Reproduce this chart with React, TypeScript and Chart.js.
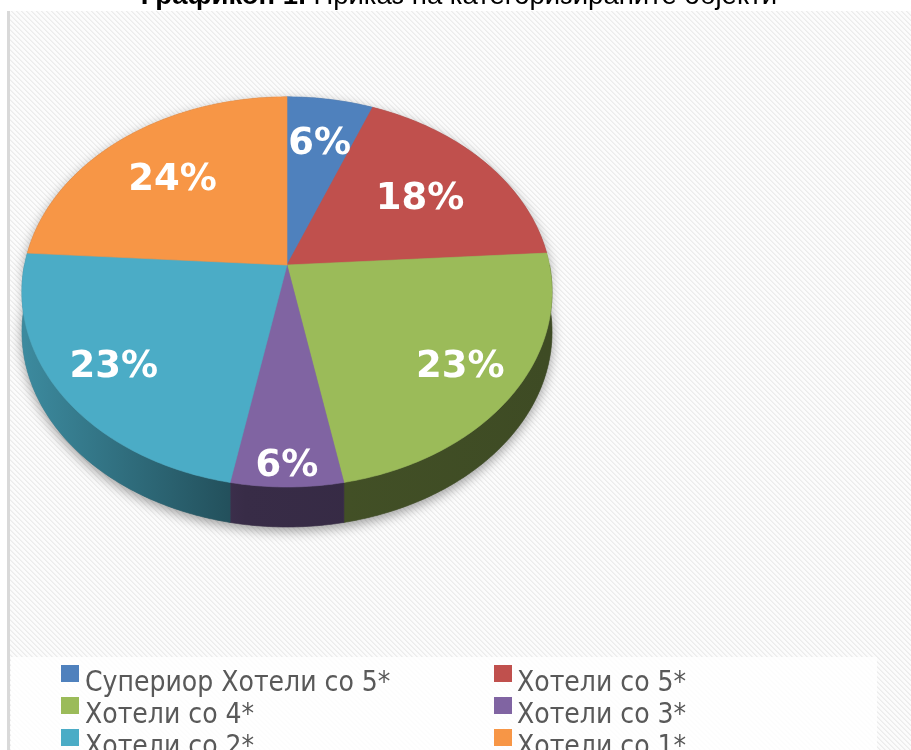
import React, { useEffect, useRef } from "react";
import { Chart, registerables } from "chart.js";

Chart.register(...registerables);

// ---- data ----
const categories = [
  "Супериор Хотели со 5*",
  "Хотели со 5*",
  "Хотели со 4*",
  "Хотели со 3*",
  "Хотели со 2*",
  "Хотели со 1*",
];
const shares = [6, 18, 23, 6, 23, 24];
const colors = ["#4f81bd", "#c0504d", "#9bbb59", "#8064a2", "#4bacc6", "#f79646"];
const titleBold = "Графикон 1.";
const titleRest = " Приказ на категоризираните објекти";

// ---- style ----
const W = 911;
const H = 750;
const TILT = 0.729;
const PERSP = 0.138;
const DEPTH = 40;
const labelRadius = [0.73, 0.66, 0.78, 0.9, 0.78, 0.68];

function shade(hex: string, f: number): string {
  const n = parseInt(hex.slice(1), 16);
  const r = Math.round(((n >> 16) & 255) * f);
  const g = Math.round(((n >> 8) & 255) * f);
  const b = Math.round((n & 255) * f);
  return `rgb(${Math.min(r, 255)},${Math.min(g, 255)},${Math.min(b, 255)})`;
}

function proj(cx: number, cy: number, R: number, rf: number, t: number): [number, number] {
  const s = Math.sin(t);
  const c = Math.cos(t);
  const w = 1 - PERSP * rf * s;
  return [cx + (R * rf * c) / w, cy + (R * TILT * rf * s) / w];
}

const backgroundPlugin = {
  id: "bg",
  beforeDraw(chart: any) {
    const ctx: CanvasRenderingContext2D = chart.ctx;
    ctx.save();
    ctx.fillStyle = "#ffffff";
    ctx.fillRect(0, 0, W, H);
    const tile = document.createElement("canvas");
    tile.width = 5;
    tile.height = 5;
    const tctx = tile.getContext("2d")!;
    const img = tctx.createImageData(5, 5);
    for (let y = 0; y < 5; y++) {
      for (let x = 0; x < 5; x++) {
        const d = (((x - y) % 5) + 5) % 5;
        const v = d === 0 ? 236 : d === 1 ? 242 : 252;
        const k = (y * 5 + x) * 4;
        img.data[k] = v;
        img.data[k + 1] = v;
        img.data[k + 2] = v;
        img.data[k + 3] = 255;
      }
    }
    tctx.putImageData(img, 0, 0);
    const pat = ctx.createPattern(tile, "repeat")!;
    ctx.fillStyle = pat;
    ctx.fillRect(10, 11, W - 10, H - 11);
    ctx.fillStyle = "#d9d9d9";
    ctx.fillRect(7, 11, 3, H - 11);
    // legend box
    ctx.fillStyle = "rgba(255,255,255,0.82)";
    ctx.fillRect(11, 657, 866, H - 657);
    // title
    ctx.fillStyle = "#000000";
    ctx.textBaseline = "alphabetic";
    ctx.textAlign = "left";
    const fb = 'bold 27.5px "Liberation Sans", Arial, sans-serif';
    const fr = '27.5px "Liberation Sans", Arial, sans-serif';
    ctx.font = fb;
    const wb = ctx.measureText(titleBold).width;
    ctx.font = fr;
    const wr = ctx.measureText(titleRest).width;
    const x0 = 459 - (wb + wr) / 2;
    ctx.font = fb;
    ctx.fillText(titleBold, x0, 4);
    ctx.font = fr;
    ctx.fillText(titleRest, x0 + wb, 4);
    ctx.restore();
  },
};

const pie3dPlugin = {
  id: "pie3d",
  beforeDatasetsDraw(chart: any) {
    const ctx: CanvasRenderingContext2D = chart.ctx;
    const meta = chart.getDatasetMeta(0);
    const arcs = meta.data as any[];
    if (!arcs.length) return false;
    const cx = arcs[0].x;
    const cy = arcs[0].y;
    const R = arcs[0].outerRadius;
    const N = 240;

    // silhouette with shadow
    ctx.save();
    ctx.beginPath();
    for (let i = 0; i <= N; i++) {
      const t = (i / N) * Math.PI;
      const [x, y] = proj(cx, cy, R, 1, t);
      if (i === 0) ctx.moveTo(x, y + DEPTH);
      else ctx.lineTo(x, y + DEPTH);
    }
    for (let i = 0; i <= N; i++) {
      const t = Math.PI + (i / N) * Math.PI;
      const [x, y] = proj(cx, cy, R, 1, t);
      ctx.lineTo(x, y);
    }
    ctx.closePath();
    ctx.shadowColor = "rgba(0,0,0,0.38)";
    ctx.shadowBlur = 12;
    ctx.shadowOffsetY = 4;
    ctx.fillStyle = "#777777";
    ctx.fill();
    ctx.restore();

    // sides
    arcs.forEach((a, i) => {
      const s = Math.max(a.startAngle, 0);
      const e = Math.min(a.endAngle, Math.PI);
      if (e <= s) return;
      const col = chart.data.datasets[0].backgroundColor[i];
      const g = ctx.createLinearGradient(cx - R, 0, cx + R, 0);
      g.addColorStop(0, shade(col, 0.8));
      g.addColorStop(0.42, shade(col, 0.44));
      g.addColorStop(1, shade(col, 0.4));
      ctx.save();
      ctx.beginPath();
      const steps = Math.max(4, Math.ceil(((e - s) / Math.PI) * N));
      for (let k = 0; k <= steps; k++) {
        const t = s + ((e - s) * k) / steps;
        const [x, y] = proj(cx, cy, R, 1, t);
        if (k === 0) ctx.moveTo(x, y);
        else ctx.lineTo(x, y);
      }
      for (let k = steps; k >= 0; k--) {
        const t = s + ((e - s) * k) / steps;
        const [x, y] = proj(cx, cy, R, 1, t);
        ctx.lineTo(x, y + DEPTH);
      }
      ctx.closePath();
      ctx.fillStyle = g;
      ctx.fill();
      ctx.strokeStyle = g;
      ctx.lineWidth = 0.6;
      ctx.stroke();
      ctx.restore();
    });

    // top faces
    arcs.forEach((a, i) => {
      const col = chart.data.datasets[0].backgroundColor[i];
      const s = a.startAngle;
      const e = a.endAngle;
      ctx.save();
      ctx.beginPath();
      ctx.moveTo(cx, cy);
      const steps = Math.max(4, Math.ceil(((e - s) / Math.PI) * N));
      for (let k = 0; k <= steps; k++) {
        const t = s + ((e - s) * k) / steps;
        const [x, y] = proj(cx, cy, R, 1, t);
        ctx.lineTo(x, y);
      }
      ctx.closePath();
      ctx.fillStyle = col;
      ctx.fill();
      ctx.strokeStyle = col;
      ctx.lineWidth = 0.6;
      ctx.stroke();
      ctx.restore();
    });

    // labels
    const data: number[] = chart.data.datasets[0].data;
    const total = data.reduce((p, v) => p + v, 0);
    ctx.save();
    ctx.fillStyle = "#ffffff";
    ctx.font = 'bold 37px "DejaVu Sans", sans-serif';
    ctx.textAlign = "center";
    ctx.textBaseline = "alphabetic";
    arcs.forEach((a, i) => {
      const mid = (a.startAngle + a.endAngle) / 2;
      const [x, y] = proj(cx, cy, R, labelRadius[i], mid);
      const txt = Math.round((data[i] / total) * 100) + "%";
      ctx.fillText(txt, x, y + 14);
    });
    ctx.restore();
    return false;
  },
};

const legendPlugin = {
  id: "legend2col",
  afterDraw(chart: any) {
    const ctx: CanvasRenderingContext2D = chart.ctx;
    const labels: string[] = chart.data.labels;
    const cols: string[] = chart.data.datasets[0].backgroundColor;
    const markerX = [61, 494];
    const textX = [85, 517];
    ctx.save();
    ctx.font = '28px "DejaVu Sans Condensed", "DejaVu Sans", sans-serif';
    ctx.textAlign = "left";
    ctx.textBaseline = "alphabetic";
    labels.forEach((lab, i) => {
      const c = i % 2;
      const r = Math.floor(i / 2);
      ctx.fillStyle = cols[i];
      ctx.fillRect(markerX[c], 665 + r * 32, 18, 17);
      ctx.fillStyle = "#595959";
      ctx.fillText(lab, textX[c], 691 + r * 32);
    });
    ctx.restore();
  },
};

export default function App() {
  const ref = useRef<HTMLCanvasElement | null>(null);
  useEffect(() => {
    if (!ref.current) return;
    const chart = new Chart(ref.current, {
      type: "pie",
      data: {
        labels: categories,
        datasets: [
          {
            data: shares,
            backgroundColor: colors,
            borderWidth: 0,
            radius: 262.5,
          } as any,
        ],
      },
      options: {
        responsive: false,
        devicePixelRatio: 1,
        animation: false,
        events: [],
        layout: { padding: { left: 0, right: 337, top: 0, bottom: 220 } },
        plugins: {
          legend: { display: false },
          tooltip: { enabled: false },
          title: { display: false },
        },
      } as any,
      plugins: [backgroundPlugin, pie3dPlugin, legendPlugin],
    });
    return () => chart.destroy();
  }, []);
  return (
    <canvas
      ref={ref}
      width={W}
      height={H}
      style={{ position: "fixed", left: 0, top: 0, display: "block" }}
    />
  );
}
